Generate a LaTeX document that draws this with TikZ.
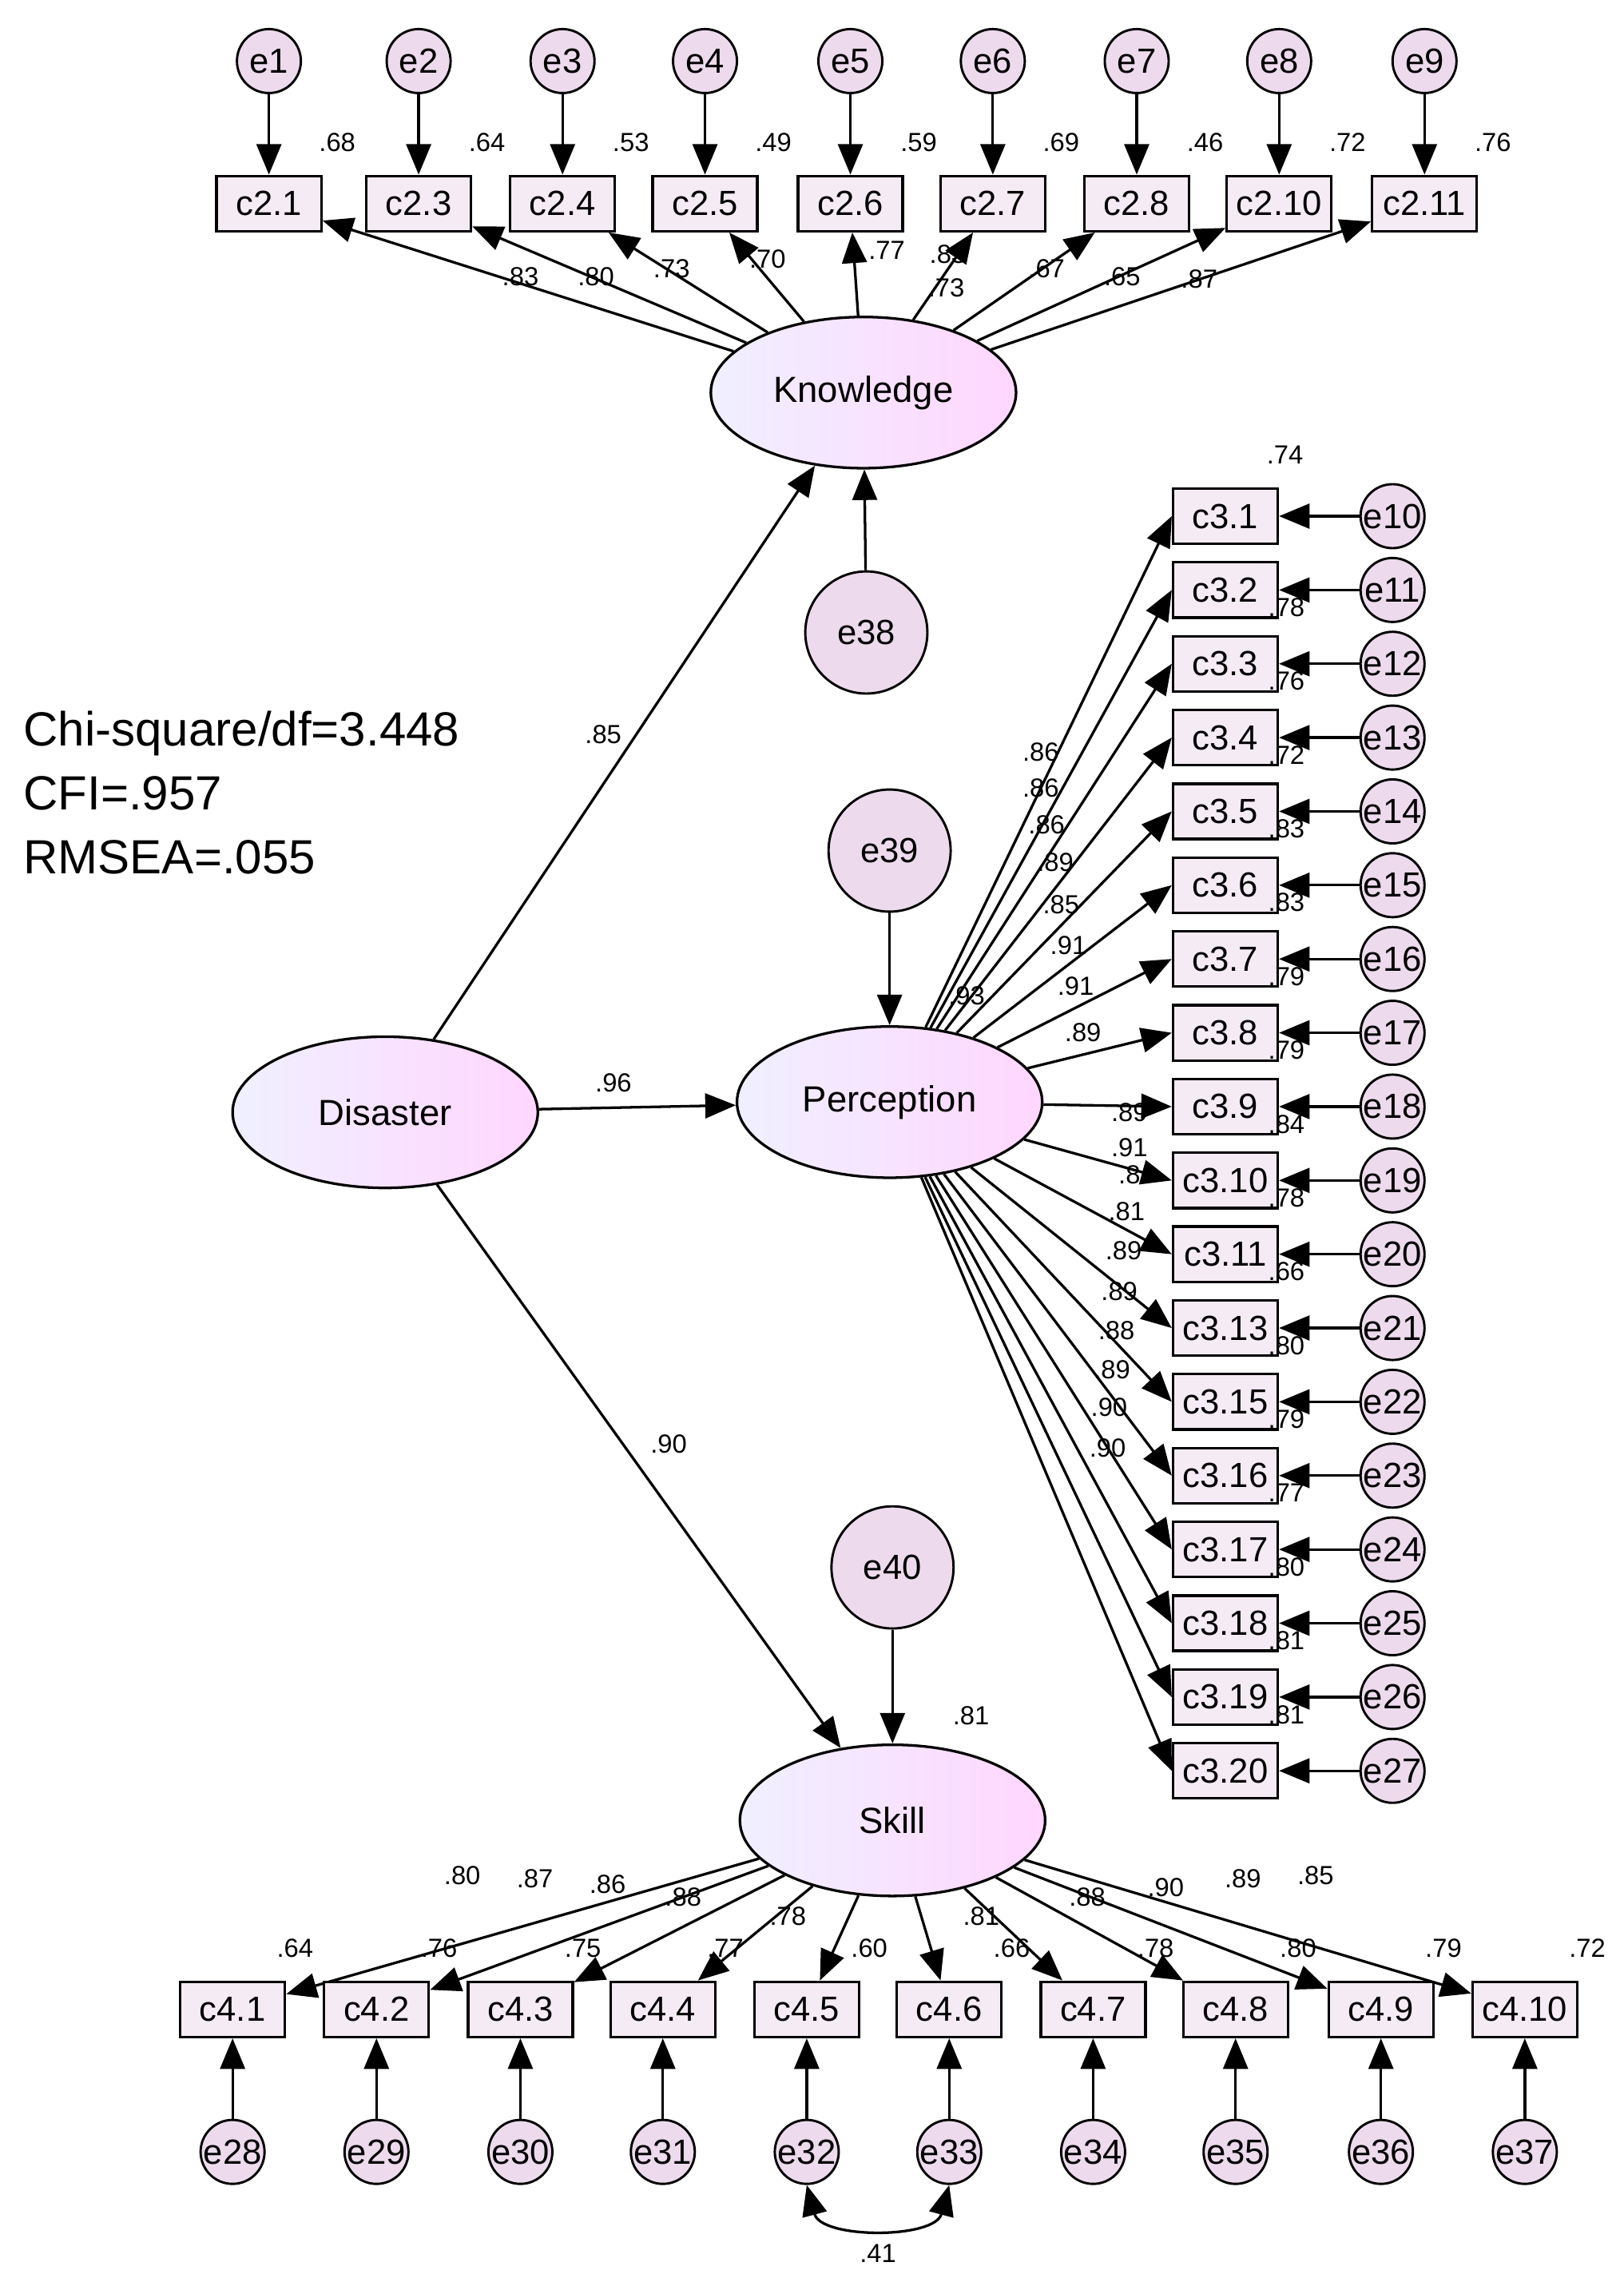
\documentclass[tikz,border=0pt]{standalone}
\usepackage{fontspec}
\setmainfont{Liberation Sans}
\usetikzlibrary{arrows.meta,shapes.geometric}
\begin{document}
\begin{tikzpicture}[x=1pt,y=-1pt,
 arr/.style={-{Triangle[length=21pt,width=17pt]},line width=1.8pt},
 box/.style={draw,line width=1.8pt,fill=violet!8,minimum width=72pt,minimum height=38pt,inner sep=0pt,font=\fontsize{24}{26}\selectfont},
 err/.style={draw,circle,line width=1.6pt,fill=violet!14,minimum size=44pt,inner sep=0pt,font=\fontsize{24}{26}\selectfont},
 berr/.style={err,minimum size=84pt},
 lat/.style={draw,ellipse,line width=1.8pt,left color=blue!6!white,right color=magenta!16!white,minimum width=210pt,minimum height=104pt,font=\fontsize{25}{27}\selectfont},
 lab/.style={font=\fontsize{18}{19}\selectfont,inner sep=0pt}]
\useasboundingbox (0,0) rectangle (1117,1575);
% latent
\node[lat] (K) at (594,270) {Knowledge};
\node[lat] (D) at (265,765) {Disaster};
\node[lat] (P) at (612,758) {Perception};
\node[lat] (S) at (614,1252) {Skill};
\node[berr] (e38) at (596,435) {e38};
\node[berr] (e39) at (612,585) {e39};
\node[berr] (e40) at (614,1078) {e40};
\draw[arr] (e38) -- (K);
\draw[arr] (e39) -- (P);
\draw[arr] (e40) -- (S);
\draw[arr] (D) -- (K);
\draw[arr] (D) -- (P);
\draw[arr] (D) -- (S);
\node[lab] at (415,505) {.85};
\node[lab] at (422,745) {.96};
\node[lab] at (460,993) {.90};
\node[lab] at (665,685) {.93};
\node[lab] at (668,1180) {.81};
\node[lab] at (884,313) {.74};
% fit
\node[anchor=west,align=left,font=\fontsize{33}{44}\selectfont,inner sep=0pt] (fit) at (16,545) {Chi-square/df=3.448\\CFI=.957\\RMSEA=.055};
% top
\foreach \i/\x/\n/\r in {1/185/2.1/.68,2/288/2.3/.64,3/387/2.4/.53,4/485/2.5/.49,5/585/2.6/.59,6/683/2.7/.69,7/782/2.8/.46,8/880/2.10/.72,9/980/2.11/.76}{
 \node[box] (t\i) at (\x,140) {c\n};
 \node[err] (te\i) at (\x,42) {e\i};
 \draw[arr] (te\i) -- (t\i);
 \node[lab] at (\x+47,98) {\r};
 \draw[arr] (K) -- (t\i);
}
\foreach \x/\y/\t in {358/190/.83,410/190/.80,462/185/.73,528/178/.70,610/172/.77,652/175/.83,651/198/.73,720/185/.67,772/190/.65,825/192/.87}{\node[lab] at (\x,\y) {\t};}
% perception indicators
\foreach \i/\n/\r [count=\k from 0] in {10/3.1/.74,11/3.2/.78,12/3.3/.76,13/3.4/.72,14/3.5/.83,15/3.6/.83,16/3.7/.79,17/3.8/.79,18/3.9/.84,19/3.10/.78,20/3.11/.66,21/3.13/.80,22/3.15/.79,23/3.16/.77,24/3.17/.80,25/3.18/.81,26/3.19/.81,27/3.20/{}}{
 \pgfmathsetmacro\yy{355+50.76*\k}
 \node[box] (p\i) at (843,\yy) {c\n};
 \ifnum\k>0 \node[lab] at (885,\yy+12) {\r};\fi
 \node[err] (e\i) at (958,\yy) {e\i};
 \draw[arr] (e\i) -- (p\i);
 \draw[arr] (P) -- (p\i.west);
}
\foreach \x/\y/\t in {716/517/.86,716/542/.86,720/567/.86,726/593/.89,730/622/.85,735/650/.91,740/678/.91,745/710/.89,777/765/.89,777/789/.91,777/808/.8,775/833/.81,773/860/.89,770/888/.89,768/915/.88,765/942/.89,763/968/.90,762/996/.90}{\node[lab] at (\x,\y) {\t};}
% skill indicators
\foreach \i/\x/\n/\r in {28/160/4.1/.64,29/259/4.2/.76,30/358/4.3/.75,31/456/4.4/.77,32/555/4.5/.60,33/653/4.6/.66,34/752/4.7/.78,35/850/4.8/.80,36/950/4.9/.79,37/1049/4.10/.72}{
 \node[box] (s\i) at (\x,1382) {c\n};
 \node[err] (e\i) at (\x,1480) {e\i};
 \draw[arr] (e\i) -- (s\i);
 \draw[arr] (S) -- (s\i);
 \node[lab] at (\x+43,1340) {\r};
}
\foreach \x/\y/\t in {318/1290/.80,368/1292/.87,418/1296/.86,470/1305/.88,542/1318/.78,675/1318/.81,748/1305/.88,802/1298/.90,855/1292/.89,905/1290/.85}{\node[lab] at (\x,\y) {\t};}
\draw[{Triangle[length=21pt,width=17pt]}-{Triangle[length=21pt,width=17pt]},line width=1.8pt] (e32.south) .. controls (565,1540) and (643,1540) .. (e33.south);
\node[lab] at (604,1550) {.41};
\end{tikzpicture}
\end{document}
